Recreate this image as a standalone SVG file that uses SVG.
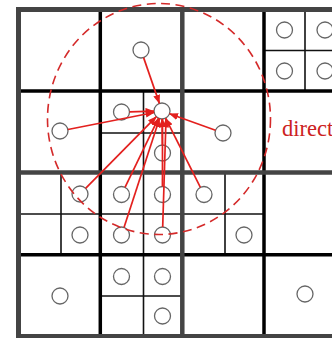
<svg xmlns="http://www.w3.org/2000/svg" width="332" height="338" viewBox="0 0 332 338">
<defs>
<marker id="ah" markerUnits="userSpaceOnUse" markerWidth="9" markerHeight="7" refX="8.5" refY="3.5" orient="auto"><path d="M0,0 L9,3.5 L0,7 Z" fill="#e3201e"/></marker>
<style>
.frame{fill:none;stroke:#444;stroke-width:5}
.quad{stroke:#444;stroke-width:4.5}
.major{stroke:#000;stroke-width:3.5}
.minor{stroke:#111;stroke-width:1.6}
.pt{fill:#fff;stroke:#666;stroke-width:1.3}
.arr{stroke:#e3201e;stroke-width:1.7;fill:none;marker-end:url(#ah)}
.range{fill:none;stroke:#d42a2a;stroke-width:1.6;stroke-dasharray:9 5.5}
.lbl{font-family:"Liberation Serif","Times New Roman",serif;font-size:22.5px;fill:#cc2222}
</style>
</defs>
<rect width="332" height="338" fill="#fff"/>
<g id="grid">
<line class="minor" x1="305" y1="9.5" x2="305" y2="91"/>
<line class="minor" x1="264" y1="50.5" x2="345.5" y2="50.5"/>
<line class="minor" x1="143.5" y1="91" x2="143.5" y2="336"/>
<line class="minor" x1="100" y1="133" x2="182" y2="133"/>
<line class="minor" x1="61" y1="172.5" x2="61" y2="254.5"/>
<line class="minor" x1="18.5" y1="214" x2="264" y2="214"/>
<line class="minor" x1="225" y1="172.5" x2="225" y2="254.5"/>
<line class="minor" x1="100" y1="296" x2="182" y2="296"/>
<line class="major" x1="100.3" y1="9.5" x2="100.3" y2="336.5"/>
<line class="major" x1="264" y1="9.5" x2="264" y2="336.5"/>
<line class="major" x1="18.5" y1="91" x2="345.5" y2="91"/>
<line class="major" x1="18.5" y1="254.7" x2="345.5" y2="254.7"/>
<line class="quad" x1="182.3" y1="9.5" x2="182.3" y2="336.5"/>
<line class="quad" x1="18.5" y1="172.5" x2="345.5" y2="172.5"/>
<rect class="frame" x="18.5" y="9.5" width="327" height="327"/>
</g>
<g id="n_target"><circle class="pt" cx="162" cy="111" r="8"/></g>
<g id="n1"><circle class="pt" cx="141" cy="50" r="8"/></g>
<g id="n2"><circle class="pt" cx="284.5" cy="30" r="8"/></g>
<g id="n3"><circle class="pt" cx="325" cy="30" r="8"/></g>
<g id="n4"><circle class="pt" cx="284.5" cy="71" r="8"/></g>
<g id="n5"><circle class="pt" cx="325" cy="71" r="8"/></g>
<g id="n6"><circle class="pt" cx="60" cy="131" r="8"/></g>
<g id="n7"><circle class="pt" cx="121.5" cy="112" r="8"/></g>
<g id="n8"><circle class="pt" cx="162.5" cy="153" r="8"/></g>
<g id="n9"><circle class="pt" cx="223" cy="133" r="8"/></g>
<g id="n10"><circle class="pt" cx="80" cy="194" r="8"/></g>
<g id="n11"><circle class="pt" cx="80" cy="235" r="8"/></g>
<g id="n12"><circle class="pt" cx="121.5" cy="194.5" r="8"/></g>
<g id="n13"><circle class="pt" cx="162.5" cy="194.5" r="8"/></g>
<g id="n14"><circle class="pt" cx="121.5" cy="235" r="8"/></g>
<g id="n15"><circle class="pt" cx="162.5" cy="235" r="8"/></g>
<g id="n16"><circle class="pt" cx="204" cy="194.5" r="8"/></g>
<g id="n17"><circle class="pt" cx="244" cy="235" r="8"/></g>
<g id="n18"><circle class="pt" cx="60" cy="296" r="8"/></g>
<g id="n19"><circle class="pt" cx="121.5" cy="276.5" r="8"/></g>
<g id="n20"><circle class="pt" cx="162.5" cy="276.5" r="8"/></g>
<g id="n21"><circle class="pt" cx="162.5" cy="316" r="8"/></g>
<g id="n22"><circle class="pt" cx="305" cy="294" r="8"/></g>
<g id="range"><ellipse class="range" cx="159" cy="119" rx="111.5" ry="115.5"/></g>
<g id="connectors">
<line class="arr" x1="143.6" y1="57.6" x2="159.4" y2="103.4"/>
<line class="arr" x1="129.5" y1="111.8" x2="154" y2="111.2"/>
<line class="arr" x1="67.9" y1="129.5" x2="154.1" y2="112.5"/>
<line class="arr" x1="215.5" y1="130.3" x2="169.5" y2="113.7"/>
<line class="arr" x1="162.4" y1="145" x2="162.1" y2="119"/>
<line class="arr" x1="85.6" y1="188.3" x2="156.4" y2="116.7"/>
<line class="arr" x1="125" y1="187.3" x2="158.5" y2="118.2"/>
<line class="arr" x1="162.45" y1="186.5" x2="162.5" y2="119"/>
<line class="arr" x1="124" y1="227.4" x2="159.5" y2="118.6"/>
<line class="arr" x1="162.7" y1="227" x2="166" y2="119"/>
<line class="arr" x1="200.4" y1="187.4" x2="165.6" y2="118.1"/>
</g>
<text class="lbl" x="282" y="136">direct</text>
</svg>
